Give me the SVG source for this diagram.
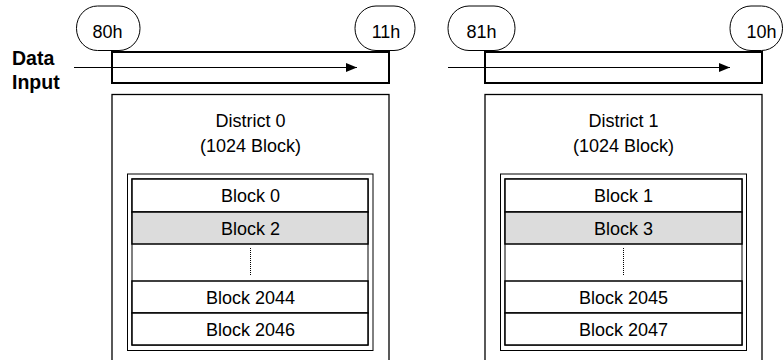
<svg xmlns="http://www.w3.org/2000/svg" width="784" height="360" viewBox="0 0 784 360">
<defs>
<style>
text{font-family:"Liberation Sans",Arial,sans-serif;font-size:18px;fill:#000}
.c{text-anchor:middle}
.b{font-weight:bold;font-size:19.5px}
.pill{fill:#fff;stroke:#000;stroke-width:1}
.reg{fill:none;stroke:#000;stroke-width:2}
.dist{fill:#fff;stroke:#000;stroke-width:1.3}
.cont{fill:#fff;stroke:#000;stroke-width:1}
.row{fill:#fff;stroke:#000;stroke-width:1.5}
.g{fill:#dcdcdc}
.dot{stroke:#000;stroke-width:1;stroke-dasharray:1 1}
.arr{stroke:#000;stroke-width:1;fill:none}
</style>
<marker id="ah" markerWidth="12" markerHeight="9" refX="11" refY="4.5" orient="auto" markerUnits="userSpaceOnUse">
<path d="M0,0 L11,4.5 L0,9 Z" fill="#000"/>
</marker>
</defs>
<rect width="784" height="360" fill="#fff"/>

<g id="label-data-input">
<text class="b" x="12" y="65">Data</text>
<text class="b" x="12" y="89">Input</text>
</g>

<g id="pill-80h"><rect class="pill" x="76.5" y="6" width="63.5" height="44.5" rx="21" ry="22"/><text class="c" x="107.5" y="37.5">80h</text></g>
<g id="pill-11h"><rect class="pill" x="355" y="6" width="60" height="44.5" rx="21" ry="22"/><text class="c" x="386" y="37.5">11h</text></g>
<g id="pill-81h"><rect class="pill" x="448" y="6" width="67" height="44.5" rx="21" ry="22"/><text class="c" x="481.5" y="37.5">81h</text></g>
<g id="pill-10h"><rect class="pill" x="730" y="6" width="52.5" height="44.5" rx="21" ry="22"/><text class="c" x="761.5" y="37.5">10h</text></g>

<g id="register-0"><rect class="reg" x="112" y="52" width="277" height="31"/></g>
<g id="register-1"><rect class="reg" x="485" y="52" width="277" height="31"/></g>

<g id="connectors">
<line class="arr" x1="74" y1="67.5" x2="357" y2="67.5" marker-end="url(#ah)"/>
<line class="arr" x1="448" y1="67.5" x2="730" y2="67.5" marker-end="url(#ah)"/>
</g>

<g id="district-0">
<rect class="dist" x="112" y="94.5" width="277" height="280"/>
<text class="c" x="250.5" y="127">District 0</text>
<text class="c" x="250.5" y="152">(1024 Block)</text>
<rect class="cont" x="127.5" y="174" width="245.5" height="176.5"/>
<rect class="cont" x="132" y="179" width="236" height="166"/>
<rect class="row" x="132" y="179" width="236" height="33"/>
<rect class="row g" x="132" y="212" width="236" height="32"/>
<line class="dot" x1="250.5" y1="248" x2="250.5" y2="276"/>
<rect class="row" x="132" y="281" width="236" height="32"/>
<rect class="row" x="132" y="313" width="236" height="32"/>
<text class="c" x="250.5" y="202">Block 0</text>
<text class="c" x="250.5" y="234.5">Block 2</text>
<text class="c" x="250.5" y="303.5">Block 2044</text>
<text class="c" x="250.5" y="335.5">Block 2046</text>
</g>

<g id="district-1">
<rect class="dist" x="485" y="94.5" width="277" height="280"/>
<text class="c" x="623.5" y="127">District 1</text>
<text class="c" x="623.5" y="152">(1024 Block)</text>
<rect class="cont" x="500.5" y="174" width="246" height="176.5"/>
<rect class="cont" x="505" y="179" width="237" height="166"/>
<rect class="row" x="505" y="179" width="237" height="33"/>
<rect class="row g" x="505" y="212" width="237" height="32"/>
<line class="dot" x1="623.5" y1="248" x2="623.5" y2="276"/>
<rect class="row" x="505" y="281" width="237" height="32"/>
<rect class="row" x="505" y="313" width="237" height="32"/>
<text class="c" x="623.5" y="202">Block 1</text>
<text class="c" x="623.5" y="234.5">Block 3</text>
<text class="c" x="623.5" y="303.5">Block 2045</text>
<text class="c" x="623.5" y="335.5">Block 2047</text>
</g>
</svg>
